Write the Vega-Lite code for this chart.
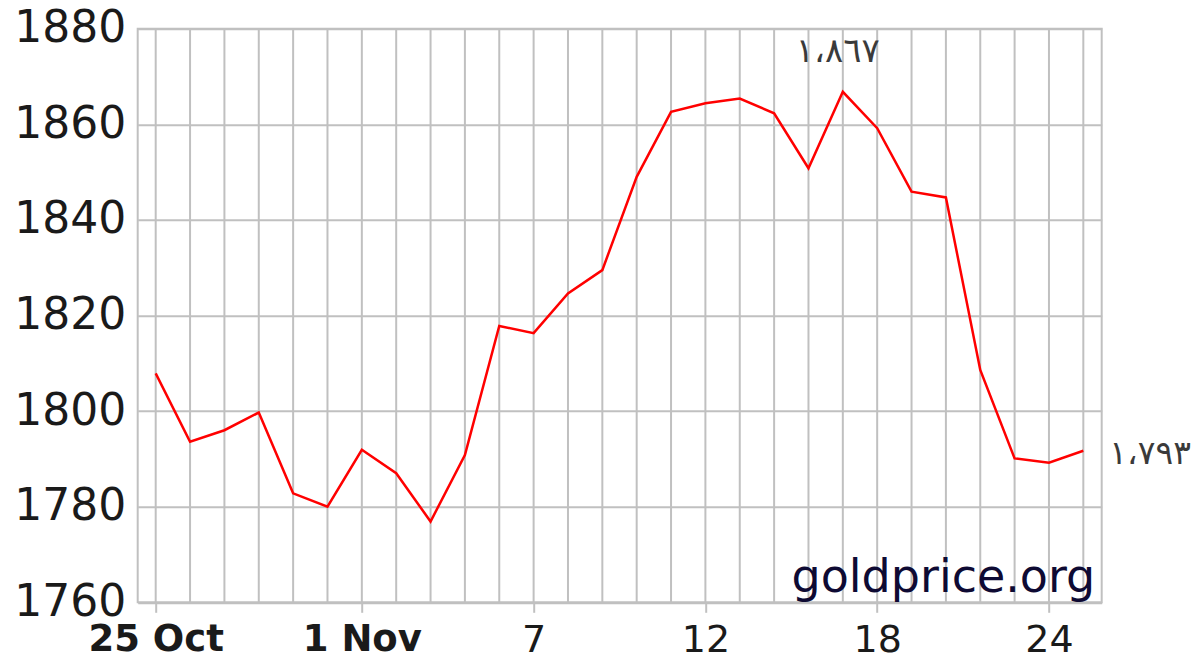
{
  "$schema": "https://vega.github.io/schema/vega-lite/v6.json",
  "autosize": "none",
  "width": 964,
  "height": 573.6,
  "padding": {"left": 137.7, "top": 28.7, "right": 91.3, "bottom": 58.7},
  "background": "white",
  "config": {"view": {"stroke": "#c0c0c0", "strokeWidth": 2}},
  "datasets": {
    "prices": [
      {"idx": 0, "value": 1807.9},
      {"idx": 1, "value": 1793.6},
      {"idx": 2, "value": 1796.0},
      {"idx": 3, "value": 1799.7},
      {"idx": 4, "value": 1782.8},
      {"idx": 5, "value": 1780.0},
      {"idx": 6, "value": 1791.9},
      {"idx": 7, "value": 1787.0},
      {"idx": 8, "value": 1776.9},
      {"idx": 9, "value": 1790.8},
      {"idx": 10, "value": 1817.8},
      {"idx": 11, "value": 1816.3},
      {"idx": 12, "value": 1824.6},
      {"idx": 13, "value": 1829.5},
      {"idx": 14, "value": 1849.0},
      {"idx": 15, "value": 1862.6},
      {"idx": 16, "value": 1864.4},
      {"idx": 17, "value": 1865.4},
      {"idx": 18, "value": 1862.3},
      {"idx": 19, "value": 1850.8},
      {"idx": 20, "value": 1866.8},
      {"idx": 21, "value": 1859.2},
      {"idx": 22, "value": 1845.9},
      {"idx": 23, "value": 1844.7},
      {"idx": 24, "value": 1808.6},
      {"idx": 25, "value": 1790.1},
      {"idx": 26, "value": 1789.2},
      {"idx": 27, "value": 1791.7}
    ],
    "peak": [{"idx": 20, "value": 1866.8, "text": "١،٨٦٧"}],
    "last": [{"idx": 27, "value": 1791.7, "text": "١،٧٩٣"}],
    "mark": [{"site": "goldprice.org"}]
  },
  "layer": [
    {
      "data": {"name": "prices"},
      "mark": {"type": "rule", "color": "#c0c0c0", "strokeWidth": 2},
      "encoding": {
        "x": {"field": "idx", "type": "quantitative"}
      }
    },
    {
      "data": {"name": "prices"},
      "mark": {"type": "line", "color": "#ff0000", "strokeWidth": 2.5},
      "encoding": {
        "x": {
          "field": "idx",
          "type": "quantitative",
          "scale": {"domain": [-0.524, 27.535], "nice": false, "zero": false},
          "axis": {
            "title": null,
            "values": [0, 6, 11, 16, 21, 26],
            "grid": false,
            "domain": false,
            "ticks": true,
            "tickColor": "#c0c0c0",
            "tickWidth": 2,
            "tickSize": 10,
            "labelExpr": "datum.value == 0 ? '25 Oct' : datum.value == 6 ? '1 Nov' : datum.value == 11 ? '7' : datum.value == 16 ? '12' : datum.value == 21 ? '18' : '24'",
            "labelFont": "DejaVu Sans",
            "labelFontSize": {"condition": {"test": "datum.value == 0 || datum.value == 6", "value": 37}, "value": 38},
            "labelFontWeight": {"condition": {"test": "datum.value == 0 || datum.value == 6", "value": "bold"}, "value": "normal"},
            "labelColor": "#1a1a1a",
            "labelPadding": 9,
            "labelOverlap": false,
            "labelFlush": false
          }
        },
        "y": {
          "field": "value",
          "type": "quantitative",
          "scale": {"domain": [1760, 1880], "nice": false, "zero": false},
          "axis": {
            "title": null,
            "format": "d",
            "values": [1760, 1780, 1800, 1820, 1840, 1860, 1880],
            "grid": true,
            "gridColor": "#c0c0c0",
            "gridWidth": 2,
            "domain": false,
            "ticks": false,
            "labelFont": "DejaVu Sans",
            "labelFontSize": 44,
            "labelColor": "#1a1a1a",
            "labelPadding": 12,
            "labelFlush": false
          }
        }
      }
    },
    {
      "data": {"name": "peak"},
      "mark": {"type": "text", "font": "DejaVu Sans", "fontSize": 34, "color": "#3a3a3a", "align": "center", "baseline": "middle", "dx": -5, "dy": -40},
      "encoding": {
        "x": {"field": "idx", "type": "quantitative"},
        "y": {"field": "value", "type": "quantitative"},
        "text": {"field": "text"}
      }
    },
    {
      "data": {"name": "last"},
      "mark": {"type": "text", "font": "DejaVu Sans", "fontSize": 33, "color": "#3a3a3a", "align": "left", "baseline": "middle", "dx": 26, "dy": 3},
      "encoding": {
        "x": {"field": "idx", "type": "quantitative"},
        "y": {"field": "value", "type": "quantitative"},
        "text": {"field": "text"}
      }
    },
    {
      "data": {"name": "mark"},
      "mark": {"type": "text", "font": "DejaVu Sans", "fontSize": 46, "color": "#0e0a33", "align": "right", "baseline": "alphabetic", "dx": 12, "dy": -10},
      "encoding": {
        "x": {"datum": 27, "type": "quantitative"},
        "y": {"datum": 1760, "type": "quantitative"},
        "text": {"field": "site"}
      }
    }
  ]
}
